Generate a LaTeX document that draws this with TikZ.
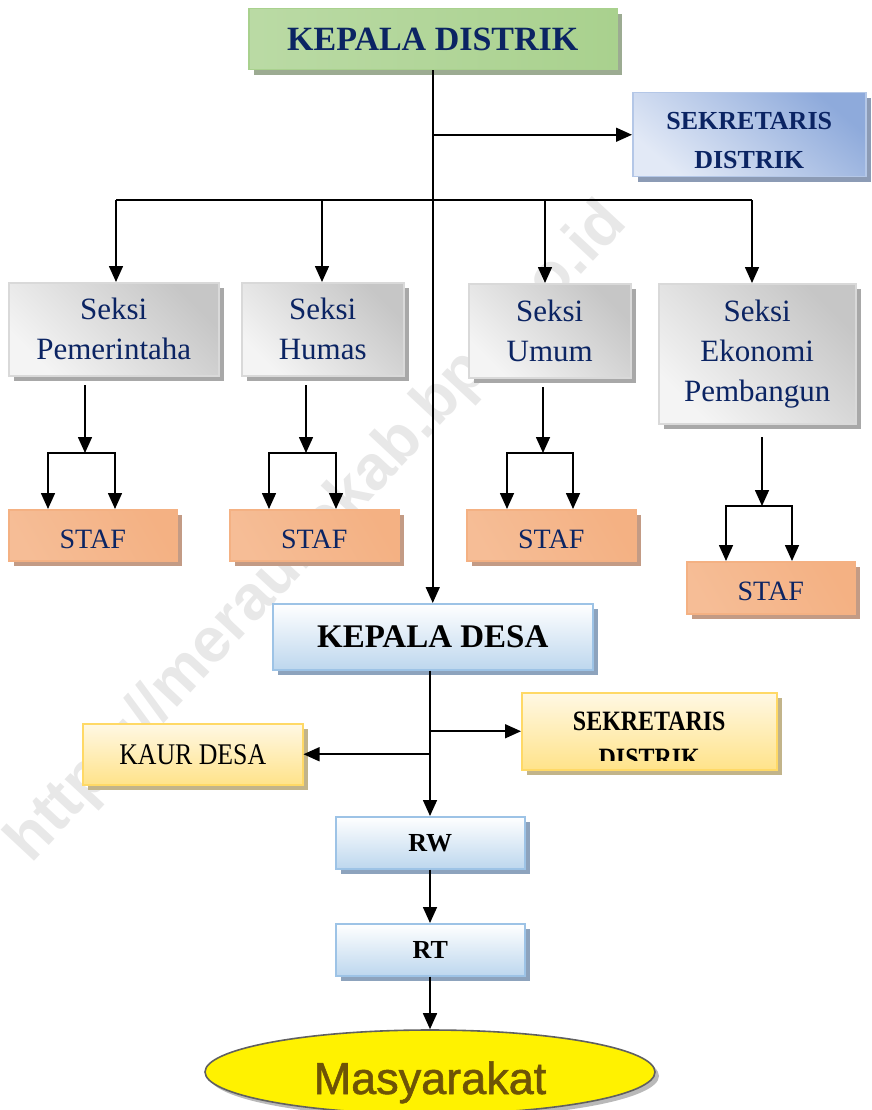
\documentclass[tikz,border=0pt]{standalone}
\usepackage{fontspec}
\usepackage{graphicx}
\setmainfont{Liberation Serif}
\newfontfamily\arialfont{Liberation Sans}
\newfontfamily\masfont[FakeBold=1.2]{Liberation Sans}
\usetikzlibrary{arrows.meta,shapes.geometric,shadows}
\definecolor{navy}{HTML}{0B2463}
\definecolor{grnA}{HTML}{A9D18E}\definecolor{grnB}{HTML}{EEF6E8}\definecolor{grnS}{HTML}{9CAB92}
\definecolor{bluA}{HTML}{8EAADB}\definecolor{bluB}{HTML}{E2E9F6}\definecolor{bluD}{HTML}{B4C7E7}\definecolor{bluS}{HTML}{8C9BB5}
\definecolor{gryA}{HTML}{C6C6C6}\definecolor{gryB}{HTML}{F4F4F4}\definecolor{gryD}{HTML}{D9D9D9}\definecolor{gryS}{HTML}{A8A8A8}
\definecolor{orA}{HTML}{F4B183}\definecolor{orB}{HTML}{FCE9DC}\definecolor{orS}{HTML}{C39B85}
\definecolor{lbA}{HTML}{BDD7EE}\definecolor{lbD}{HTML}{9DC3E6}\definecolor{lbS}{HTML}{8DA3BD}
\definecolor{ylA}{HTML}{FFE38A}\definecolor{ylB}{HTML}{FFF8E4}\definecolor{ylD}{HTML}{FFD966}\definecolor{ylS}{HTML}{C2B48A}
\definecolor{masText}{HTML}{6E5406}
\newcommand\fsz[2]{\fontsize{#1}{#2}\selectfont}
\newcommand\dropby[2]{\raisebox{-#1}[0pt][0pt]{#2}}
\begin{document}
\begin{tikzpicture}[x=1pt,y=-1pt,
  boxbase/.style={rectangle, line width=1.5pt, inner sep=0pt, anchor=north west, align=center},
  shad/.style={drop shadow={shadow xshift=5pt, shadow yshift=-5pt, fill=#1, opacity=1}},
  grnbox/.style={boxbase, shad=grnS, draw=grnA, left color=grnA!80, middle color=grnB, right color=grnA, text=navy},
  blubox/.style={boxbase, shad=bluS, draw=bluD, top color=bluA, bottom color=bluB, shading angle=-40, text=navy},
  grybox/.style={boxbase, shad=gryS, draw=gryD, top color=gryA, bottom color=gryB, shading angle=-45, text=navy, font=\fsz{31}{40}},
  orbox/.style={boxbase, shad=orS, draw=orA, top color=orA, middle color=orB, bottom color=orA!85, shading angle=-60, text=navy, font=\fsz{28}{34}},
  lbbox/.style={boxbase, shad=lbS, draw=lbD, top color=white, bottom color=lbA, text=black},
  ylbox/.style={boxbase, shad=ylS, draw=ylD, top color=ylB, bottom color=ylA, text=black},
  lbl/.style={inner sep=0pt, align=center},
  ln/.style={line width=1.6pt, black},
  arr/.style={ln, -{Triangle[length=16pt,width=14pt]}},
  darr/.style={ln, {Triangle[length=16pt,width=14pt]}-{Triangle[length=16pt,width=14pt]}, line join=miter}
]
\useasboundingbox (0,0) rectangle (871,1110);

% watermark
\node[text=gray!18, font=\arialfont\bfseries\fsz{63}{63}, rotate=47] (wm) at (318,533) {https://meraukekab.bps.go.id};

% boxes
\node[grnbox, minimum width=368pt, minimum height=61pt, font=\bfseries\fsz{34}{40}] (kd) at (248,8) {KEPALA DISTRIK};
\node[blubox, minimum width=233pt, minimum height=84pt] (sd) at (632,92) {};
\node[lbl, text=navy, font=\bfseries\fsz{26}{39}] (sdt) at ([yshift=-6pt]sd.center) {SEKRETARIS\\DISTRIK};

\node[grybox, minimum width=210pt, minimum height=93pt] (s1) at (8,282) {Seksi\\Pemerintaha};
\node[grybox, minimum width=162pt, minimum height=93pt] (s2) at (241,282) {Seksi\\Humas};
\node[grybox, minimum width=162pt, minimum height=94pt] (s3) at (468,283) {Seksi\\Umum};
\node[grybox, minimum width=197pt, minimum height=140pt] (s4) at (658,283) {Seksi\\Ekonomi\\Pembangun};

\node[orbox, minimum width=168pt, minimum height=51pt] (st1) at (8,509) {\dropby{13pt}{STAF}};
\node[orbox, minimum width=169pt, minimum height=51pt] (st2) at (229,509) {\dropby{13pt}{STAF}};
\node[orbox, minimum width=169pt, minimum height=51pt] (st3) at (466,509) {\dropby{13pt}{STAF}};
\node[orbox, minimum width=168pt, minimum height=52pt] (st4) at (686,561) {\dropby{13pt}{STAF}};

\node[lbbox, minimum width=320pt, minimum height=66pt, font=\bfseries\fsz{33}{40}] (kdesa) at (272,603) {KEPALA DESA};
\node[ylbox, minimum width=220pt, minimum height=61pt, font=\fsz{30}{36}] (kaur) at (82,723) {\scalebox{0.86}[1]{KAUR DESA}};
\node[ylbox, minimum width=255pt, minimum height=77pt] (sek2) at (521,692) {};
\begin{scope}
  \clip (sek2.north west) rectangle ([yshift=10pt]sek2.south east);
  \node[anchor=base, inner sep=0pt, font=\bfseries\fsz{28}{37}] (sek2a) at ([yshift=-38pt]sek2.north) {\scalebox{0.855}[1]{SEKRETARIS}};
  \node[anchor=base, inner sep=0pt, font=\bfseries\fsz{28}{37}] (sek2b) at ([yshift=-75pt]sek2.north) {\scalebox{0.855}[1]{DISTRIK}};
\end{scope}
\node[lbbox, minimum width=189pt, minimum height=52pt, font=\bfseries\fsz{26}{30}] (rw) at (335,816) {RW};
\node[lbbox, minimum width=189pt, minimum height=52pt, font=\bfseries\fsz{26}{30}] (rt) at (335,923) {RT};

\node[ellipse, draw=gray!75!black, line width=1.6pt, fill=yellow, minimum width=450pt, minimum height=84pt, inner sep=0pt,
      drop shadow={shadow xshift=4pt, shadow yshift=-4pt, fill=gray!55, opacity=1},
      font=\masfont\fsz{45}{45}, text=masText] (mas) at (430,1072) {\dropby{22pt}{Masyarakat}};

% coordinates
\coordinate (b1) at (116,200);
\coordinate (b2) at (322,200);
\coordinate (b3) at (545,200);
\coordinate (b4) at (752,200);
\coordinate (g1t) at (85,385);   \coordinate (g1) at (85,453);  \coordinate (g1l) at (48,453);  \coordinate (g1r) at (115,453);
\coordinate (g2t) at (306,385);  \coordinate (g2) at (306,453); \coordinate (g2l) at (269,453); \coordinate (g2r) at (336,453);
\coordinate (g3t) at (543,387);  \coordinate (g3) at (543,453); \coordinate (g3l) at (507,453); \coordinate (g3r) at (573,453);
\coordinate (g4t) at (762,437);  \coordinate (g4) at (762,506); \coordinate (g4l) at (726,506); \coordinate (g4r) at (792,506);
\coordinate (spine) at (430,700);

% connectors
\draw[arr] (kd.south) -- (kdesa.north);
\draw[arr] (kd.south |- sd.west) -- (sd.west);
\draw[ln] (b1) -- (b4);
\draw[arr] (b1) -- (b1 |- s1.north);
\draw[arr] (b2) -- (b2 |- s2.north);
\draw[arr] (b3) -- (b3 |- s3.north);
\draw[arr] (b4) -- (b4 |- s4.north);

\draw[arr] (g1t) -- (g1);
\draw[darr] (g1l |- st1.north) -- (g1l) -- (g1r) -- (g1r |- st1.north);
\draw[arr] (g2t) -- (g2);
\draw[darr] (g2l |- st2.north) -- (g2l) -- (g2r) -- (g2r |- st2.north);
\draw[arr] (g3t) -- (g3);
\draw[darr] (g3l |- st3.north) -- (g3l) -- (g3r) -- (g3r |- st3.north);
\draw[arr] (g4t) -- (g4);
\draw[darr] (g4l |- st4.north) -- (g4l) -- (g4r) -- (g4r |- st4.north);

\draw[arr] (kdesa.south -| spine) -- (rw.north -| spine);
\draw[arr] (sek2.west -| spine) -- (sek2.west);
\draw[arr] (kaur.east -| spine) -- (kaur.east);
\draw[arr] (rw.south -| spine) -- (rt.north -| spine);
\draw[arr] (rt.south -| spine) -- (mas.north);
\end{tikzpicture}
\end{document}
